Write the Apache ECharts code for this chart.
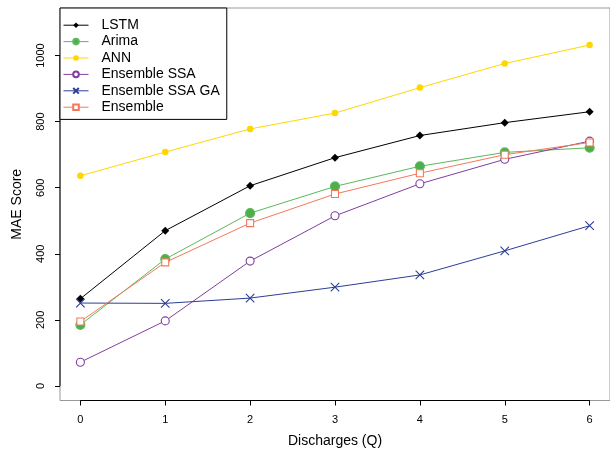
<!DOCTYPE html>
<html>
<head>
<meta charset="utf-8">
<style>html,body{margin:0;padding:0;background:#fff;}#c{width:610px;height:454px;}</style>
<script src="https://cdn.jsdelivr.net/npm/echarts@6/dist/echarts.min.js"></script>
</head>
<body>
<div id="c"></div>
<script>
var discharges = [0, 1, 2, 3, 4, 5, 6];
var lstm = [264, 470, 606, 691, 758, 797, 830];
var arima = [185, 384, 523, 604, 665, 707, 721];
var ann = [636, 708, 778, 826, 903, 976, 1032];
var ensembleSSA = [72, 197, 378, 515, 612, 686, 741];
var ensembleSSAGA = [251, 250, 266, 299, 336, 409, 485];
var ensemble = [195, 374, 493, 581, 644, 700, 737];
var xTicks = [0, 1, 2, 3, 4, 5, 6];
var yTicks = [0, 200, 400, 600, 800, 1000];
var xRange = [-0.24, 6.24];
var yRange = [-44, 1144];

function pairs(vals) { return discharges.map(function (d, i) { return [d, vals[i]]; }); }

var font = 'Liberation Sans, Arial, Helvetica, sans-serif';
var crossPath = 'path://M0,0L10,10M10,0L0,10';

var defs = [
  { name: 'LSTM', data: lstm, color: '#000000', symbol: 'diamond', size: 8, fill: '#000000' },
  { name: 'Arima', data: arima, color: '#5cb85c', symbol: 'circle', size: 9, fill: '#4daf4a' },
  { name: 'ANN', data: ann, color: '#ffd700', symbol: 'circle', size: 6.5, fill: '#ffd700' },
  { name: 'Ensemble SSA', data: ensembleSSA, color: '#7f3f9f', symbol: 'circle', size: 8, fill: '#ffffff' },
  { name: 'Ensemble SSA GA', data: ensembleSSAGA, color: '#2b3f97', symbol: crossPath, size: 8.5, fill: 'rgba(0,0,0,0)' },
  { name: 'Ensemble', data: ensemble, color: '#f4795a', symbol: 'rect', size: 7, fill: '#ffffff' }
];

var series = defs.map(function (d) {
  return {
    name: d.name, type: 'line', data: pairs(d.data),
    symbol: d.symbol, symbolSize: d.size, showSymbol: true,
    lineStyle: { color: d.color, width: 1 },
    itemStyle: { color: d.fill, borderColor: d.color, borderWidth: (d.fill === d.color ? 0 : 1.1) },
    emphasis: { disabled: true }, animation: false, z: 3
  };
});

// black axis lines spanning first to last tick (R style)
series.push({
  name: '_xaxis', type: 'line', silent: true, symbol: 'none', animation: false, z: 2, clip: false,
  data: [[xTicks[0], yRange[0]], [xTicks[xTicks.length - 1], yRange[0]]],
  lineStyle: { color: '#000', width: 1 }
});
series.push({
  name: '_yaxis', type: 'line', silent: true, symbol: 'none', animation: false, z: 2, clip: false,
  data: [[xRange[0], yTicks[0]], [xRange[0], yTicks[yTicks.length - 1]]],
  lineStyle: { color: '#000', width: 1 }
});

var chart = echarts.init(document.getElementById('c'), null, { renderer: 'canvas' });
chart.setOption({
  animation: false,
  backgroundColor: '#ffffff',
  textStyle: { fontFamily: font },
  grid: { left: 60, top: 8, right: -1, bottom: 53.5, show: true, borderColor: '#999', borderWidth: 1, backgroundColor: 'transparent' },
  legend: {
    data: defs.map(function (d) { return d.name; }),
    orient: 'vertical', left: 60, top: 8,
    padding: [9, 7, 4, 3],
    itemGap: 0, itemWidth: 25, itemHeight: 7,
    lineStyle: { width: 1 },
    backgroundColor: '#fff', borderColor: '#000', borderWidth: 1, borderRadius: 0,
    textStyle: { fontFamily: font, fontSize: 14, color: '#000', lineHeight: 16.4, padding: [0, 0, 0, 8] },
    selectedMode: false, z: 10
  },
  xAxis: {
    type: 'value', min: xRange[0], max: xRange[1],
    name: 'Discharges (Q)', nameLocation: 'middle', nameGap: 34,
    nameTextStyle: { fontFamily: font, fontSize: 14, color: '#000' },
    axisLine: { show: false, onZero: false },
    axisTick: { show: true, length: 5, inside: false, lineStyle: { color: '#000' }, customValues: xTicks },
    axisLabel: { fontFamily: font, fontSize: 11, color: '#000', margin: 14, customValues: xTicks },
    splitLine: { show: false }
  },
  yAxis: {
    type: 'value', min: yRange[0], max: yRange[1],
    name: 'MAE Score', nameLocation: 'middle', nameGap: 36,
    nameTextStyle: { fontFamily: font, fontSize: 14, color: '#000' },
    axisLine: { show: false, onZero: false },
    axisTick: { show: true, length: 5, lineStyle: { color: '#000' }, customValues: yTicks },
    axisLabel: { fontFamily: font, fontSize: 11, color: '#000', margin: 14, rotate: 90, customValues: yTicks,
      formatter: function (v) { return String(v); } },
    splitLine: { show: false }
  },
  series: series
});
</script>
</body>
</html>
